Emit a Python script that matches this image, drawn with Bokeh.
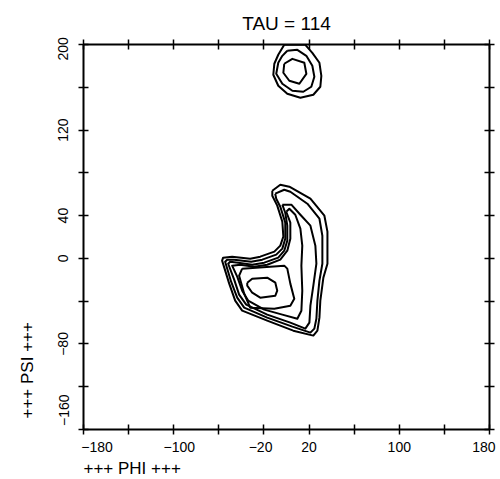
from bokeh.plotting import figure
from bokeh.models import Range1d, LinearAxis, FixedTicker, Title
from bokeh.embed import file_html
from bokeh.resources import INLINE

TITLE = "TAU = 114"
X_LABEL = "+++ PHI +++"
Y_LABEL = "+++ PSI +++"

PHI_TICKS = [-180, -140, -100, -60, -20, 20, 60, 100, 140, 180]
PHI_TICK_LABELS = ["\u2212180", "", "\u2212100", "", "\u221220", "20", "", "100", "", "180"]
PSI_TICKS = [-160, -120, -80, -40, 0, 40, 80, 120, 160, 200]
PSI_TICK_LABELS = ["\u2212160", "", "\u221280", "", "0", "40", "", "120", "", "200"]

# main (alpha-region) contours, outermost to innermost
MAIN_C1_PHI = [-12.6, -5.5, 2.5, 21.2, 33.6, 36.3, 36.3, 32.7, 30.0, 29.2, 27.4, 23.8, 6.0, -17.1,
               -39.3, -45.5, -50.8, -57.1, -56.2, -48.2, -32.2, -23.3, -10.8, -5.5, -2.8, -3.7, -8.2, -12.6]
MAIN_C1_PSI = [63.3, 68.9, 67.0, 55.8, 39.9, 25.0, -5.0, -18.0, -39.5, -55.4, -67.6, -72.2, -67.6, -58.2,
               -48.9, -39.5, -23.6, -2.1, 0.7, 1.6, -0.3, 1.6, 6.3, 11.9, 20.3, 34.3, 49.3, 58.6]
MAIN_C2_PHI = [-10.0, -2.0, 3.4, 18.5, 29.2, 31.8, 31.8, 29.2, 27.4, 26.5, 24.7, 21.2, 5.2, -17.1,
               -37.5, -43.7, -49.1, -54.4, -52.6, -46.4, -31.3, -21.5, -9.1, -3.7, -1.1, -1.1, -5.5, -9.1]
MAIN_C2_PSI = [60.5, 64.2, 62.3, 51.1, 37.1, 21.2, -5.0, -20.8, -39.5, -56.4, -65.7, -69.4, -63.8, -55.4,
               -46.1, -36.7, -21.8, -3.1, -1.2, -1.2, -3.1, -1.2, 3.5, 9.1, 18.4, 33.4, 48.3, 55.8]
MAIN_C3_PHI = [-3.7, 4.3, 12.3, 21.2, 25.6, 26.5, 23.8, 21.2, 20.3, 16.7, 3.4, -17.1, -35.7, -42.0,
               -46.4, -51.7, -50.0, -42.8, -30.4, -19.7, -7.3, -2.0, 0.7, 0.7, -1.1]
MAIN_C3_PSI = [50.2, 50.2, 40.8, 30.6, 11.9, -5.0, -25.5, -44.2, -60.1, -65.7, -60.1, -52.6, -43.3, -33.9,
               -19.9, -5.0, -3.1, -4.0, -5.9, -4.0, 0.7, 7.2, 16.5, 30.6, 42.7]
MAIN_C4_PHI = [-0.2, 2.5, 7.8, 12.3, 14.0, 13.2, 14.0, 13.2, 9.6, -3.7, -19.7, -34.0, -39.3, -43.7,
               -48.2, -41.1, -28.6, -17.1, -5.5, 0.7, 3.4, 3.4]
MAIN_C4_PSI = [43.6, 46.4, 40.8, 27.8, 11.9, -6.8, -30.2, -48.9, -56.4, -52.6, -47.9, -39.5, -30.2, -17.1,
               -6.8, -5.9, -7.8, -5.9, -1.2, 7.2, 18.4, 33.4]
MAIN_C5_PHI = [-39.3, -2.0, 0.7, 3.4, 6.9, 3.4, -10.8, -32.2, -37.5, -42.0]
MAIN_C5_PSI = [-9.6, -6.8, -9.6, -23.6, -37.7, -44.2, -47.0, -46.1, -33.0, -16.2]
MAIN_C6_PHI = [-34.8, -30.4, -17.1, -9.9, -8.2, -9.9, -23.3, -30.4, -34.8]
MAIN_C6_PSI = [-22.7, -19.0, -18.0, -22.7, -30.2, -34.9, -36.7, -32.1, -25.5]

# upper region contours
TOP_C1_PHI = [-2.0, 16.7, 22.9, 29.2, 30.9, 30.0, 23.8, 12.3, 0.7, -7.3, -11.7, -10.8, -7.3]
TOP_C1_PSI = [199.7, 199.7, 192.2, 182.9, 170.7, 160.5, 153.0, 150.2, 153.9, 161.4, 171.7, 182.0, 190.4]
TOP_C2_PHI = [0.7, 9.6, 17.6, 22.9, 24.7, 22.0, 14.9, 5.2, -3.7, -9.1, -7.3, -3.7]
TOP_C2_PSI = [194.1, 195.0, 189.4, 180.1, 169.8, 160.5, 155.8, 156.7, 163.3, 172.6, 182.9, 189.4]
TOP_C3_PHI = [-2.0, 5.2, 15.8, 17.6, 11.4, 2.5, -2.8]
TOP_C3_PSI = [182.0, 186.6, 182.9, 172.6, 163.3, 166.1, 173.6]

CONTOURS = [
    (MAIN_C1_PHI, MAIN_C1_PSI), (MAIN_C2_PHI, MAIN_C2_PSI), (MAIN_C3_PHI, MAIN_C3_PSI),
    (MAIN_C4_PHI, MAIN_C4_PSI), (MAIN_C5_PHI, MAIN_C5_PSI), (MAIN_C6_PHI, MAIN_C6_PSI),
    (TOP_C1_PHI, TOP_C1_PSI), (TOP_C2_PHI, TOP_C2_PSI), (TOP_C3_PHI, TOP_C3_PSI),
]

FONT = "Liberation Sans"
FRAME_W, FRAME_H = 406, 385

# style: pixel nudges of some tick labels relative to their tick (as in the original print)
X_LABEL_NUDGE_PX = {-180: 14, -100: 6, -20: -3, 180: -6}
Y_LABEL_NUDGE_PX = {-160: 19, 200: -4}

p = figure(frame_width=FRAME_W, frame_height=FRAME_H, output_backend="svg", toolbar_location=None,
           x_range=Range1d(PHI_TICKS[0], PHI_TICKS[-1]), y_range=Range1d(PSI_TICKS[0], PSI_TICKS[-1]),
           x_axis_location=None, y_axis_location=None)
p.min_border_left = 82
p.min_border_right = 10
p.min_border_top = 44
p.min_border_bottom = 50
p.outline_line_color = None
p.xgrid.visible = False
p.ygrid.visible = False
p.background_fill_color = "white"
p.border_fill_color = "white"

x_deg_per_px = (PHI_TICKS[-1] - PHI_TICKS[0]) / FRAME_W
y_deg_per_px = (PSI_TICKS[-1] - PSI_TICKS[0]) / FRAME_H


def label_ticker(ticks, labels, nudges, deg_per_px):
    pos, over = [], {}
    for t, l in zip(ticks, labels):
        if l == "":
            continue
        q = int(round(t + nudges.get(t, 0) * deg_per_px))
        pos.append(q)
        over[q] = l
    # real tick marks are drawn as the (minor) ticks, labels sit on zero-length major ticks
    return FixedTicker(ticks=pos, minor_ticks=list(ticks)), over


def base_style(ax):
    ax.axis_line_width = 2
    ax.axis_line_color = "black"
    ax.major_label_text_font = FONT
    ax.major_label_text_font_size = "14px"
    ax.major_label_text_color = "black"


def labelled_axis(ticks, labels, nudges, deg_per_px, standoff):
    ax = LinearAxis()
    base_style(ax)
    ax.ticker, ax.major_label_overrides = label_ticker(ticks, labels, nudges, deg_per_px)
    ax.major_tick_in = 0
    ax.major_tick_out = 0
    ax.major_tick_line_color = None
    ax.minor_tick_in = 5
    ax.minor_tick_out = 5
    ax.minor_tick_line_width = 1.5
    ax.minor_tick_line_color = "black"
    ax.major_label_standoff = standoff
    return ax


def plain_axis(ticks):
    ax = LinearAxis()
    base_style(ax)
    ax.ticker = FixedTicker(ticks=ticks)
    ax.major_tick_in = 5
    ax.major_tick_out = 5
    ax.major_tick_line_width = 1.5
    ax.major_tick_line_color = "black"
    ax.minor_tick_line_color = None
    ax.major_label_overrides = {t: "" for t in ticks}
    ax.major_label_standoff = 0
    return ax


bottom = labelled_axis(PHI_TICKS, PHI_TICK_LABELS, X_LABEL_NUDGE_PX, x_deg_per_px, 7)
p.add_layout(bottom, "below")

left = labelled_axis(PSI_TICKS, PSI_TICK_LABELS, Y_LABEL_NUDGE_PX, y_deg_per_px, 10)
left.major_label_orientation = "vertical"
p.add_layout(left, "left")

p.add_layout(plain_axis(PHI_TICKS), "above")
p.add_layout(plain_axis(PSI_TICKS), "right")

for xs, ys in CONTOURS:
    p.line(list(xs) + [xs[0]], list(ys) + [ys[0]], line_color="black", line_width=2,
           line_join="round")

# title and axis titles
p.add_layout(Title(text=TITLE, align="center", text_font=FONT, text_font_size="19px",
                   text_font_style="normal", text_color="black", standoff=12), "above")
p.add_layout(Title(text=X_LABEL, align="left", text_font=FONT, text_font_size="17px",
                   text_font_style="normal", text_color="black", standoff=5), "below")
p.add_layout(Title(text=Y_LABEL, align="left", vertical_align="top", text_font=FONT,
                   text_font_size="17px", text_font_style="normal", text_color="black",
                   standoff=34, offset=11), "left")

open("out.html", "w").write(file_html(p, INLINE))
